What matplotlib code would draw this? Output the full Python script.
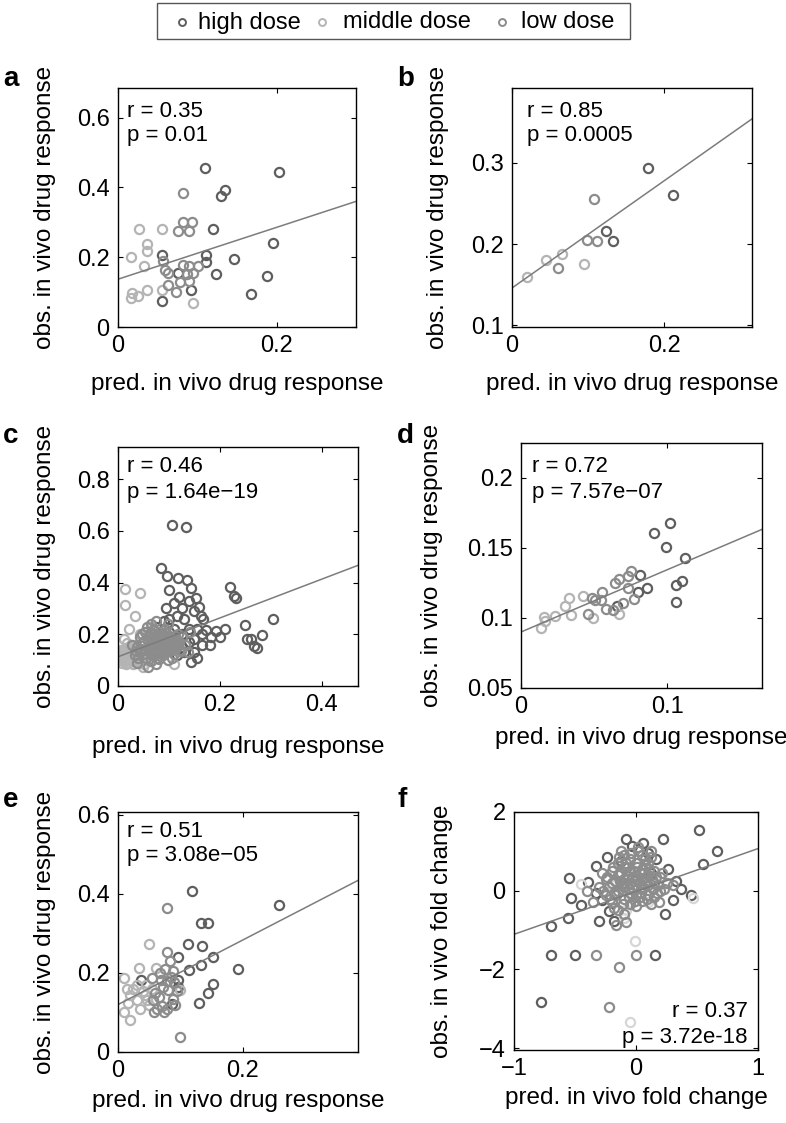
import matplotlib
matplotlib.use("Agg")
import matplotlib.pyplot as plt
from matplotlib.lines import Line2D
from matplotlib.patches import Rectangle

plt.rcParams['font.family'] = ['Liberation Sans', 'DejaVu Sans']

# ---------------- data ----------------
legend_labels = ["high dose", "middle dose", "low dose"]

# panel a
a_high_x = [0.110, 0.203, 0.130, 0.135, 0.120, 0.111, 0.111, 0.146, 0.195, 0.123, 0.188, 0.168, 0.076, 0.092, 0.055, 0.056]
a_high_y = [0.457, 0.443, 0.376, 0.393, 0.281, 0.205, 0.185, 0.195, 0.240, 0.152, 0.147, 0.095, 0.154, 0.106, 0.075, 0.207]
a_mid_x = [0.027, 0.056, 0.037, 0.037, 0.017, 0.033, 0.055, 0.037, 0.018, 0.025, 0.016, 0.095]
a_mid_y = [0.282, 0.282, 0.238, 0.218, 0.200, 0.176, 0.106, 0.105, 0.098, 0.090, 0.082, 0.070]
a_low_x = [0.082, 0.076, 0.082, 0.093, 0.089, 0.057, 0.059, 0.063, 0.082, 0.089, 0.101, 0.087, 0.095, 0.063, 0.078, 0.089, 0.073]
a_low_y = [0.384, 0.276, 0.302, 0.302, 0.276, 0.190, 0.164, 0.156, 0.178, 0.176, 0.176, 0.151, 0.154, 0.121, 0.128, 0.133, 0.099]
a_fit_x = [0.0, 0.3]
a_fit_y = [0.137, 0.360]

# panel b
b_high_x = [0.179, 0.211, 0.124, 0.133]
b_high_y = [0.294, 0.260, 0.216, 0.204]
b_mid_x = [0.020, 0.045, 0.065, 0.094]
b_mid_y = [0.159, 0.180, 0.188, 0.175]
b_low_x = [0.108, 0.098, 0.111, 0.060]
b_low_y = [0.256, 0.205, 0.204, 0.170]
b_fit_x = [0.0, 0.315]
b_fit_y = [0.146, 0.354]

# panel c
c_high_x = [0.105, 0.133, 0.084, 0.097, 0.118, 0.135, 0.143, 0.153, 0.158, 0.167, 0.172, 0.182, 0.192, 0.163,
            0.220, 0.227, 0.232, 0.305, 0.249, 0.253, 0.261, 0.283, 0.266, 0.273, 0.143,
            0.100, 0.120, 0.140, 0.125, 0.110, 0.095, 0.150, 0.130, 0.115, 0.100, 0.090, 0.155, 0.165, 0.140,
            0.125, 0.110, 0.100, 0.150, 0.165, 0.140, 0.125, 0.110, 0.095, 0.130, 0.115, 0.150, 0.180, 0.200,
            0.210, 0.085, 0.075, 0.090, 0.070, 0.155]
c_high_y = [0.625, 0.614, 0.458, 0.425, 0.419, 0.411, 0.378, 0.342, 0.306, 0.258, 0.217, 0.189, 0.211, 0.272,
            0.383, 0.350, 0.342, 0.258, 0.236, 0.180, 0.180, 0.197, 0.156, 0.147, 0.092,
            0.370, 0.345, 0.330, 0.300, 0.320, 0.300, 0.290, 0.260, 0.270, 0.260, 0.250, 0.220, 0.200, 0.220,
            0.200, 0.220, 0.210, 0.180, 0.160, 0.170, 0.150, 0.160, 0.175, 0.130, 0.120, 0.130, 0.160, 0.190,
            0.220, 0.200, 0.230, 0.140, 0.170, 0.110]
c_mid_x = [0.005, 0.008, 0.010, 0.012, 0.015, 0.015, 0.018, 0.020, 0.020, 0.022, 0.025, 0.025, 0.028, 0.030,
           0.030, 0.032, 0.035, 0.035, 0.038, 0.040, 0.042, 0.045, 0.048, 0.050, 0.052, 0.055, 0.060, 0.065,
           0.014, 0.044, 0.013, 0.033, 0.022, 0.011, 0.044, 0.066, 0.005, 0.018, 0.008, 0.049, 0.110,
           0.004, 0.009, 0.013, 0.017, 0.021, 0.026, 0.031, 0.036, 0.041, 0.046, 0.051, 0.006, 0.011, 0.016,
           0.023, 0.029, 0.034, 0.039, 0.003, 0.027]
c_mid_y = [0.100, 0.120, 0.110, 0.130, 0.100, 0.140, 0.115, 0.090, 0.125, 0.150, 0.105, 0.130, 0.095, 0.115,
           0.140, 0.160, 0.100, 0.125, 0.110, 0.145, 0.090, 0.120, 0.100, 0.130, 0.085, 0.110, 0.095, 0.105,
           0.375, 0.361, 0.314, 0.270, 0.220, 0.180, 0.200, 0.230, 0.140, 0.165, 0.090, 0.075, 0.085,
           0.115, 0.105, 0.095, 0.125, 0.110, 0.120, 0.105, 0.135, 0.125, 0.105, 0.115, 0.130, 0.140, 0.085,
           0.140, 0.085, 0.150, 0.095, 0.125, 0.150]
c_low_x = [0.033, 0.038, 0.044, 0.049, 0.055, 0.055, 0.060, 0.060, 0.066, 0.066, 0.068, 0.071, 0.071, 0.077,
           0.077, 0.079, 0.082, 0.082, 0.085, 0.088, 0.088, 0.090, 0.093, 0.093, 0.096, 0.099, 0.099, 0.101,
           0.104, 0.107, 0.110, 0.110, 0.115, 0.118, 0.120, 0.123, 0.126, 0.131, 0.137, 0.142, 0.075, 0.044,
           0.053, 0.064, 0.075, 0.099, 0.027, 0.038, 0.059, 0.105,
           0.045, 0.050, 0.058, 0.062, 0.067, 0.070, 0.074, 0.078, 0.083, 0.086, 0.090, 0.094, 0.097, 0.102,
           0.106, 0.112, 0.116, 0.121, 0.048, 0.056, 0.063, 0.069, 0.076, 0.081, 0.087, 0.092, 0.098, 0.104,
           0.109, 0.114, 0.052, 0.061, 0.072, 0.084, 0.095, 0.035, 0.040, 0.065, 0.080, 0.100]
c_low_y = [0.120, 0.150, 0.130, 0.170, 0.110, 0.140, 0.160, 0.190, 0.120, 0.145, 0.175, 0.200, 0.130, 0.155,
           0.110, 0.180, 0.140, 0.210, 0.165, 0.120, 0.190, 0.150, 0.135, 0.220, 0.170, 0.155, 0.100, 0.190,
           0.140, 0.160, 0.180, 0.125, 0.150, 0.200, 0.170, 0.135, 0.190, 0.160, 0.130, 0.210, 0.085, 0.190,
           0.210, 0.240, 0.250, 0.240, 0.160, 0.090, 0.072, 0.110,
           0.145, 0.125, 0.175, 0.205, 0.160, 0.190, 0.125, 0.145, 0.175, 0.200, 0.130, 0.165, 0.185, 0.145,
           0.175, 0.195, 0.165, 0.140, 0.200, 0.230, 0.135, 0.215, 0.195, 0.130, 0.155, 0.205, 0.140, 0.165,
           0.145, 0.175, 0.170, 0.150, 0.160, 0.185, 0.195, 0.135, 0.110, 0.095, 0.105, 0.140]
c_fit_x = [0.0, 0.471]
c_fit_y = [0.113, 0.467]

# panel d
d_high_x = [0.102, 0.0911, 0.0991, 0.1124, 0.110, 0.106, 0.106, 0.0861, 0.0815, 0.0804, 0.0655]
d_high_y = [0.1675, 0.1608, 0.1507, 0.1428, 0.1267, 0.1236, 0.1111, 0.1212, 0.1308, 0.1187, 0.1083]
d_mid_x = [0.0673, 0.0426, 0.0495, 0.033, 0.030, 0.0339, 0.0231, 0.0156, 0.0163, 0.014]
d_mid_y = [0.1032, 0.1156, 0.1003, 0.114, 0.1083, 0.1019, 0.1012, 0.101, 0.0982, 0.0928]
d_low_x = [0.0751, 0.0735, 0.0673, 0.0643, 0.0735, 0.0774, 0.0701, 0.0627, 0.0581, 0.0552, 0.0545, 0.0506,
           0.0483, 0.046]
d_low_y = [0.1339, 0.130, 0.1277, 0.1248, 0.1212, 0.1135, 0.1104, 0.1058, 0.1066, 0.1187, 0.1128, 0.1128,
           0.114, 0.1032]
d_fit_x = [0.0, 0.165]
d_fit_y = [0.0900, 0.1633]

# panel e
e_high_x = [0.119, 0.258, 0.133, 0.144, 0.113, 0.135, 0.097, 0.152, 0.133, 0.114, 0.192, 0.037, 0.097, 0.153,
            0.144, 0.130, 0.086, 0.097]
e_high_y = [0.406, 0.371, 0.326, 0.325, 0.274, 0.267, 0.240, 0.240, 0.221, 0.207, 0.210, 0.181, 0.183, 0.173,
            0.150, 0.124, 0.122, 0.165]
e_mid_x = [0.050, 0.034, 0.061, 0.010, 0.015, 0.024, 0.043, 0.100, 0.016, 0.030, 0.046, 0.019, 0.030, 0.045,
           0.020, 0.035, 0.050, 0.010, 0.040, 0.055]
e_mid_y = [0.273, 0.212, 0.212, 0.187, 0.160, 0.160, 0.145, 0.158, 0.123, 0.132, 0.132, 0.080, 0.170, 0.170,
           0.145, 0.110, 0.120, 0.100, 0.155, 0.160]
e_low_x = [0.079, 0.079, 0.083, 0.075, 0.089, 0.054, 0.069, 0.078, 0.090, 0.059, 0.081, 0.056, 0.070, 0.058,
           0.073, 0.063, 0.100, 0.095, 0.085, 0.072, 0.065, 0.088, 0.092, 0.078, 0.068]
e_low_y = [0.364, 0.254, 0.230, 0.210, 0.205, 0.187, 0.183, 0.180, 0.178, 0.150, 0.158, 0.132, 0.117, 0.100,
           0.100, 0.110, 0.038, 0.155, 0.190, 0.165, 0.140, 0.135, 0.120, 0.110, 0.200]
e_fit_x = [0.0, 0.385]
e_fit_y = [0.120, 0.434]

# panel f
f_high_x = [-0.78, -0.70, -0.50, 0.154, -0.70, -0.557, -0.55, -0.53, -0.45, -0.325, -0.24, -0.08, -0.03, 0.06,
            0.10, 0.16, 0.22, 0.325, 0.26, 0.37, 0.24, 0.30, 0.52, 0.66, 0.55, -0.39, -0.325, -0.28, -0.22,
            -0.30, -0.18, 0.45, 0.12, -0.12]
f_high_y = [-2.84, -1.64, -1.64, -1.64, -0.91, -0.69, 0.31, -0.18, -0.36, 0.62, 0.85, 1.31, 1.13, 1.22,
            0.95, 0.80, 1.31, 0.25, 0.55, 0.04, -0.60, -0.24, 1.53, 1.02, 0.67, 0.22, -0.05, -0.24, -0.51,
            -0.78, -0.78, -0.10, 0.45, 0.75]
f_mid_x = [-0.05, -0.008, 0.47, -0.45, -0.10, -0.08, -0.12, 0.10, -0.20]
f_mid_y = [-3.33, -1.27, -0.18, 0.18, -0.70, -0.50, 0.04, -0.30, 0.15]
f_low_x = [-0.30, -0.25, -0.25, -0.20, -0.20, -0.20, -0.15, -0.15, -0.15, -0.15, -0.10, -0.10, -0.10, -0.10,
           -0.10, -0.10, -0.05, -0.05, -0.05, -0.05, -0.05, 0.00, 0.00, 0.00, 0.00, 0.00, 0.05, 0.05, 0.05,
           0.05, 0.05, 0.10, 0.10, 0.10, 0.10, 0.15, 0.15, 0.15, 0.20, 0.20, 0.25, -0.35, -0.40, 0.30, -0.28,
           0.02, -0.08, 0.12, -0.33, 0.00, -0.142, -0.22, -0.16, -0.02, 0.08, -0.12, 0.03, -0.07, 0.07, -0.18,
           -0.27, -0.22, -0.17, -0.12, -0.07, -0.02, 0.03, 0.08, 0.13, 0.18, 0.23, -0.24, -0.19, -0.14, -0.09,
           -0.04, 0.01, 0.06, 0.11, 0.16, 0.21, -0.21, -0.16, -0.11, -0.06, -0.01, 0.04, 0.09, 0.14, 0.19,
           -0.18, -0.13, -0.08, -0.03, 0.02, 0.07, 0.12, 0.17, -0.06, 0.00, 0.06, -0.12, 0.12, -0.03, 0.03]
f_low_y = [0.10, 0.30, -0.10, 0.50, 0.20, -0.30, 0.70, 0.40, 0.00, -0.50, 0.90, 0.60, 0.30, 0.10, -0.20,
           -0.60, 0.80, 0.50, 0.20, -0.05, -0.35, 0.70, 0.40, 0.15, -0.10, -0.40, 0.90, 0.55, 0.30, 0.05,
           -0.25, 0.70, 0.40, 0.15, -0.10, 0.50, 0.20, -0.15, 0.35, 0.00, 0.20, -0.30, 0.00, 0.15, 0.45, 1.00,
           -0.80, -0.35, -1.64, -1.64, -1.93, -2.96, -0.87, 0.25, 0.25, 0.15, -0.15, 0.38, 0.65, -0.05,
           0.00, 0.10, 0.25, 0.45, 0.60, 0.50, 0.45, 0.35, 0.30, 0.15, 0.05, 0.35, 0.60, 0.85, 0.20,
           0.95, 0.60, 0.10, 0.55, 0.35, 0.45, -0.20, -0.10, -0.35, 0.05, -0.25, -0.05, -0.20, 0.05, -0.30,
           -0.45, 0.25, 0.70, 0.35, 1.10, 0.80, 0.85, -0.05, -0.15, 0.30, 0.45, 1.00, 1.00, 0.10, 0.20]
f_fit_x = [-1.0, 1.0]
f_fit_y = [-1.11, 1.07]

# ---------------- style ----------------
W, H = 786, 1123
C_HIGH = '#5e5e5e'
C_MID = '#b4b4b4'
C_LOW = '#8c8c8c'
C_MID_F = '#d6d6d6'
C_FIT = '#7c7c7c'
FS_TICK = 17
FS_LAB = 17.5
FS_STAT = 16

fig = plt.figure(figsize=(W / 100, H / 100), dpi=100)


def px(x, y):
    return x / W, 1 - y / H


def panel(box, xlim, ylim, xticks, xtl, yticks, ytl, series, fit, stats, xlabel, ylabel,
          xlab_top, ylab_right):
    l, t, r, b = box
    ax = fig.add_axes([l / W, 1 - b / H, (r - l) / W, (b - t) / H])
    for xs, ys, c in series:
        ax.plot(xs, ys, linestyle='none', marker='o', ms=6.6, mfc='none', mec=c, mew=1.6,
                clip_on=True)
    ax.plot(fit[0], fit[1], color=C_FIT, lw=1.1)
    ax.set_xlim(*xlim)
    ax.set_ylim(*ylim)
    ax.set_xticks(xticks)
    ax.set_xticklabels(xtl)
    ax.set_yticks(yticks)
    ax.set_yticklabels(ytl)
    ax.tick_params(direction='in', length=3.5, width=0.8, top=True, right=True,
                   labelsize=FS_TICK, pad=6)
    for s in ax.spines.values():
        s.set_linewidth(1.0)
    ax.set_xlabel(xlabel, fontsize=FS_LAB)
    ax.set_ylabel(ylabel, fontsize=FS_LAB)
    ax.xaxis.set_label_coords(0.5, -xlab_top / (b - t))
    ax.yaxis.set_label_coords(-ylab_right / (r - l), 0.5)
    for txt, x, y, ha in stats:
        fig.text(*px(x, y), txt, fontsize=FS_STAT, ha=ha, va='baseline')
    return ax


YL = "obs. in vivo drug response"
XL = "pred. in vivo drug response"

panel((118, 88, 356, 327), (0, 0.3), (0, 0.685), [0, 0.2], ["0", "0.2"],
      [0, 0.2, 0.4, 0.6], ["0", "0.2", "0.4", "0.6"],
      [(a_high_x, a_high_y, C_HIGH), (a_mid_x, a_mid_y, C_MID), (a_low_x, a_low_y, C_LOW)],
      (a_fit_x, a_fit_y),
      [("r = 0.35", 127, 117, 'left'), ("p = 0.01", 127, 141.5, 'left')],
      XL, YL, 46, 62)

panel((512, 88, 752, 327), (0, 0.315), (0.098, 0.392), [0, 0.2], ["0", "0.2"],
      [0.1, 0.2, 0.3], ["0.1", "0.2", "0.3"],
      [(b_high_x, b_high_y, C_HIGH), (b_mid_x, b_mid_y, C_MID), (b_low_x, b_low_y, C_LOW)],
      (b_fit_x, b_fit_y),
      [("r = 0.85", 527, 117, 'left'), ("p = 0.0005", 527, 141.5, 'left')],
      XL, YL, 46, 63)

panel((118, 447, 358, 686), (0, 0.471), (0, 0.925), [0, 0.2, 0.4], ["0", "0.2", "0.4"],
      [0, 0.2, 0.4, 0.6, 0.8], ["0", "0.2", "0.4", "0.6", "0.8"],
      [(c_high_x, c_high_y, C_HIGH), (c_mid_x, c_mid_y, C_MID), (c_low_x, c_low_y, C_LOW)],
      (c_fit_x, c_fit_y),
      [("r = 0.46", 127, 472, 'left'), ("p = 1.64e\u221219", 127, 498, 'left')],
      XL, YL, 50, 62)

panel((521, 443, 762, 688), (0, 0.165), (0.05, 0.225), [0, 0.1], ["0", "0.1"],
      [0.05, 0.1, 0.15, 0.2], ["0.05", "0.1", "0.15", "0.2"],
      [(d_high_x, d_high_y, C_HIGH), (d_mid_x, d_mid_y, C_MID), (d_low_x, d_low_y, C_LOW)],
      (d_fit_x, d_fit_y),
      [("r = 0.72", 532, 472, 'left'), ("p = 7.57e\u221207", 532, 498, 'left')],
      XL, YL, 39, 78)

panel((118, 812, 358, 1052), (0, 0.385), (0, 0.607), [0, 0.2], ["0", "0.2"],
      [0, 0.2, 0.4, 0.6], ["0", "0.2", "0.4", "0.6"],
      [(e_high_x, e_high_y, C_HIGH), (e_mid_x, e_mid_y, C_MID), (e_low_x, e_low_y, C_LOW)],
      (e_fit_x, e_fit_y),
      [("r = 0.51", 127, 837, 'left'), ("p = 3.08e\u221205", 127, 861.5, 'left')],
      XL, YL, 38, 62)

panel((514, 812, 758, 1050), (-1, 1), (-4.05, 2), [-1, 0, 1], ["\u22121", "0", "1"],
      [-4, -2, 0, 2], ["\u22124", "\u22122", "0", "2"],
      [(f_high_x, f_high_y, C_HIGH), (f_mid_x, f_mid_y, C_MID_F), (f_low_x, f_low_y, C_LOW)],
      (f_fit_x, f_fit_y),
      [("r = 0.37", 748, 1017, 'right'), ("p = 3.72e-18", 748, 1043, 'right')],
      "pred. in vivo fold change", "obs. in vivo fold change", 37, 61)

# panel letters
for letter, x, y in [("a", 3, 86), ("b", 397, 86), ("c", 3, 443), ("d", 397, 443),
                     ("e", 3, 807), ("f", 397, 807)]:
    fig.text(*px(x, y), letter, fontsize=20, fontweight='bold', ha='left', va='baseline')

# legend (figure level)
fig.add_artist(Rectangle(px(157, 39), (630 - 157) / W, 36 / H, transform=fig.transFigure,
                         fill=False, edgecolor='#555555', lw=1.0))
for label, c, mx, tx in zip(legend_labels, [C_HIGH, C_MID, C_LOW], [182, 322, 502], [198, 343, 521]):
    fig.add_artist(Line2D([mx / W], [1 - 21.5 / H], transform=fig.transFigure, marker='o',
                          ms=5, mfc='none', mec=c, mew=1.4, linestyle='none'))
    fig.text(*px(tx, 28.5), label, fontsize=17, ha='left', va='baseline')

fig.savefig("out.png", dpi=100)
